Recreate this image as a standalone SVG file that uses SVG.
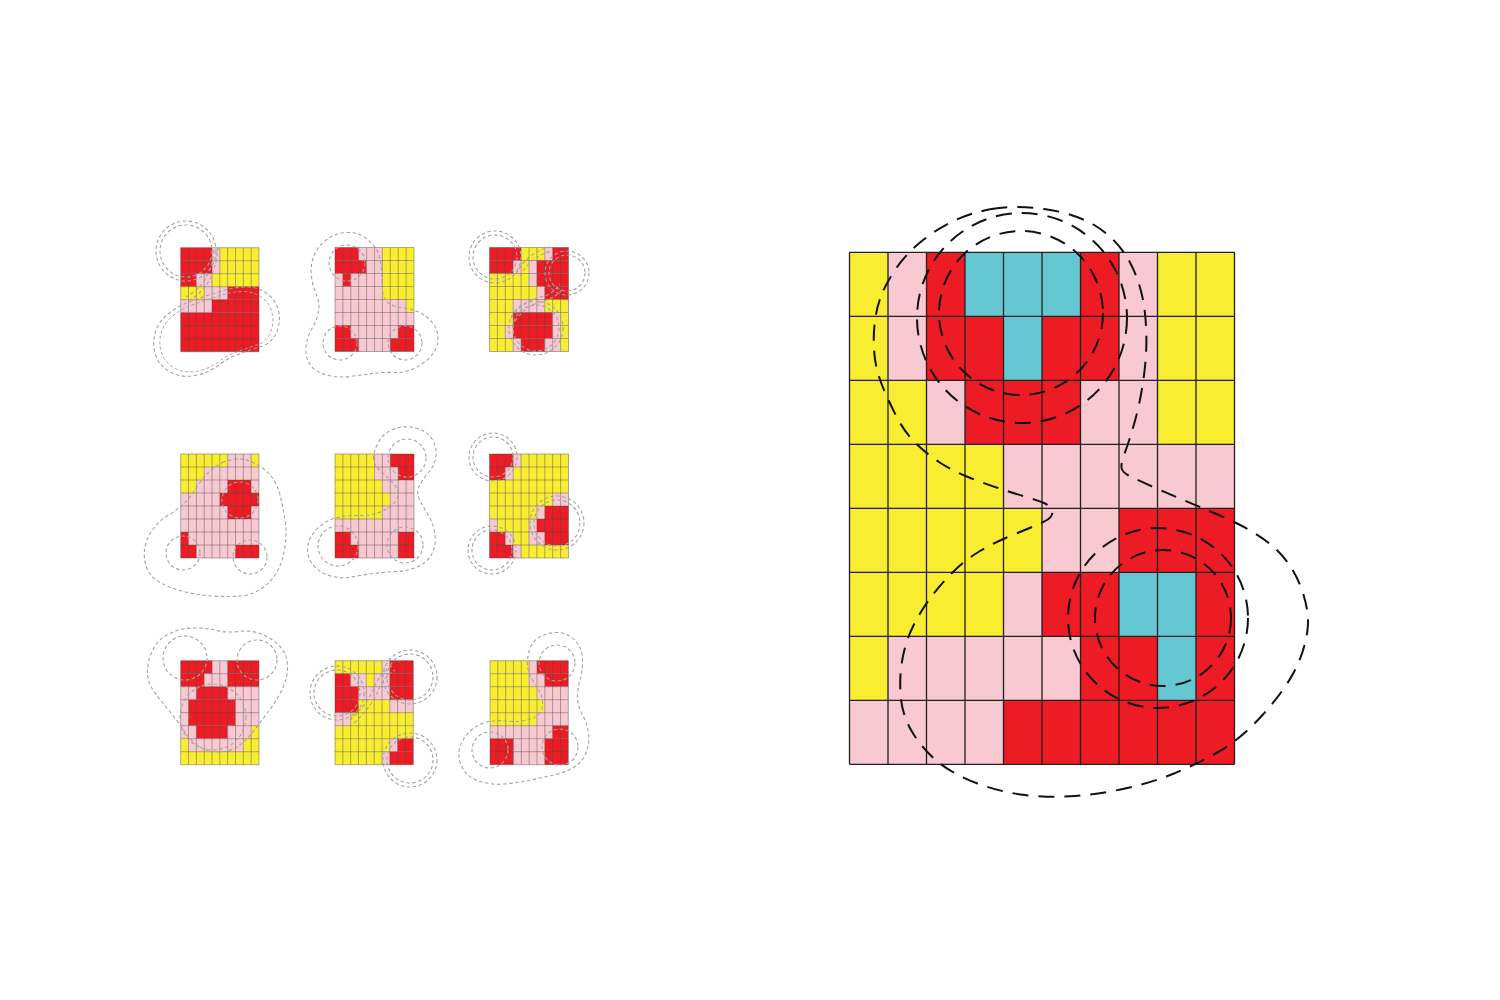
<svg xmlns="http://www.w3.org/2000/svg" xmlns:xlink="http://www.w3.org/1999/xlink" width="1500" height="1000" viewBox="0 0 1500 1000">
<style>
.y{fill:#f9ed32}.p{fill:#f9c9d2}.r{fill:#ed1c24}.c{fill:#65c7d2}
.bgl{fill:none;stroke:#231f20;stroke-width:1.3}
.sgl{fill:none;stroke:#4d4d4d;stroke-opacity:0.75;stroke-width:0.6}
.bd{fill:none;stroke:#111;stroke-width:2;stroke-dasharray:16 10}
.sd{fill:none;stroke:#a3a3a3;stroke-width:1.1;stroke-dasharray:3.5 2.5}
</style>
<defs>
<path id="lines" vector-effect="non-scaling-stroke" d="M0 0V8M1 0V8M2 0V8M3 0V8M4 0V8M5 0V8M6 0V8M7 0V8M8 0V8M9 0V8M10 0V8M0 0H10M0 1H10M0 2H10M0 3H10M0 4H10M0 5H10M0 6H10M0 7H10M0 8H10"/>
</defs>
<rect width="1500" height="1000" fill="#fff"/>

<g id="big-grid" transform="translate(849.5,252.3) scale(38.5,64)">
<rect class="y" x="0" y="0" width="1" height="1"/><rect class="p" x="1" y="0" width="1" height="1"/><rect class="r" x="2" y="0" width="1" height="1"/><rect class="c" x="3" y="0" width="3" height="1"/><rect class="r" x="6" y="0" width="1" height="1"/><rect class="p" x="7" y="0" width="1" height="1"/><rect class="y" x="8" y="0" width="2" height="1"/>
<rect class="y" x="0" y="1" width="1" height="1"/><rect class="p" x="1" y="1" width="1" height="1"/><rect class="r" x="2" y="1" width="2" height="1"/><rect class="c" x="4" y="1" width="1" height="1"/><rect class="r" x="5" y="1" width="2" height="1"/><rect class="p" x="7" y="1" width="1" height="1"/><rect class="y" x="8" y="1" width="2" height="1"/>
<rect class="y" x="0" y="2" width="2" height="1"/><rect class="p" x="2" y="2" width="1" height="1"/><rect class="r" x="3" y="2" width="3" height="1"/><rect class="p" x="6" y="2" width="2" height="1"/><rect class="y" x="8" y="2" width="2" height="1"/>
<rect class="y" x="0" y="3" width="4" height="1"/><rect class="p" x="4" y="3" width="6" height="1"/>
<rect class="y" x="0" y="4" width="5" height="1"/><rect class="p" x="5" y="4" width="2" height="1"/><rect class="r" x="7" y="4" width="3" height="1"/>
<rect class="y" x="0" y="5" width="4" height="1"/><rect class="p" x="4" y="5" width="1" height="1"/><rect class="r" x="5" y="5" width="2" height="1"/><rect class="c" x="7" y="5" width="2" height="1"/><rect class="r" x="9" y="5" width="1" height="1"/>
<rect class="y" x="0" y="6" width="1" height="1"/><rect class="p" x="1" y="6" width="5" height="1"/><rect class="r" x="6" y="6" width="2" height="1"/><rect class="c" x="8" y="6" width="1" height="1"/><rect class="r" x="9" y="6" width="1" height="1"/>
<rect class="p" x="0" y="7" width="4" height="1"/><rect class="r" x="4" y="7" width="6" height="1"/>
<use href="#lines" class="bgl"/>
</g>

<g id="grid-1" transform="translate(180.7,247.7) scale(7.83,13)">
<rect class="r" x="0" y="0" width="4" height="1"/><rect class="p" x="4" y="0" width="1" height="1"/><rect class="y" x="5" y="0" width="5" height="1"/>
<rect class="r" x="0" y="1" width="4" height="1"/><rect class="p" x="4" y="1" width="1" height="1"/><rect class="y" x="5" y="1" width="5" height="1"/>
<rect class="r" x="0" y="2" width="2" height="1"/><rect class="p" x="2" y="2" width="2" height="1"/><rect class="y" x="4" y="2" width="6" height="1"/>
<rect class="y" x="0" y="3" width="3" height="1"/><rect class="p" x="3" y="3" width="3" height="1"/><rect class="r" x="6" y="3" width="4" height="1"/>
<rect class="p" x="0" y="4" width="4" height="1"/><rect class="r" x="4" y="4" width="6" height="1"/>
<rect class="r" x="0" y="5" width="10" height="3"/>
<use href="#lines" class="sgl"/>
</g>
<g id="grid-2" transform="translate(335,247.5) scale(7.9,13)">
<rect class="r" x="0" y="0" width="3" height="1"/><rect class="p" x="3" y="0" width="3" height="1"/><rect class="y" x="6" y="0" width="4" height="1"/>
<rect class="r" x="0" y="1" width="4" height="1"/><rect class="p" x="4" y="1" width="2" height="1"/><rect class="y" x="6" y="1" width="4" height="1"/>
<rect class="p" x="0" y="2" width="1" height="1"/><rect class="r" x="1" y="2" width="1" height="1"/><rect class="p" x="2" y="2" width="4" height="1"/><rect class="y" x="6" y="2" width="4" height="1"/>
<rect class="p" x="0" y="3" width="6" height="1"/><rect class="y" x="6" y="3" width="4" height="1"/>
<rect class="p" x="0" y="4" width="9" height="1"/><rect class="y" x="9" y="4" width="1" height="1"/>
<rect class="p" x="0" y="5" width="10" height="1"/>
<rect class="r" x="0" y="6" width="2" height="1"/><rect class="p" x="2" y="6" width="6" height="1"/><rect class="r" x="8" y="6" width="2" height="1"/>
<rect class="r" x="0" y="7" width="3" height="1"/><rect class="p" x="3" y="7" width="4" height="1"/><rect class="r" x="7" y="7" width="3" height="1"/>
<use href="#lines" class="sgl"/>
</g>
<g id="grid-3" transform="translate(489.5,247.5) scale(7.9,13)">
<rect class="r" x="0" y="0" width="4" height="1"/><rect class="y" x="4" y="0" width="3" height="1"/><rect class="p" x="7" y="0" width="1" height="1"/><rect class="r" x="8" y="0" width="2" height="1"/>
<rect class="r" x="0" y="1" width="3" height="1"/><rect class="p" x="3" y="1" width="1" height="1"/><rect class="y" x="4" y="1" width="1" height="1"/><rect class="p" x="5" y="1" width="1" height="1"/><rect class="r" x="6" y="1" width="4" height="1"/>
<rect class="y" x="0" y="2" width="5" height="1"/><rect class="p" x="5" y="2" width="1" height="1"/><rect class="r" x="6" y="2" width="4" height="1"/>
<rect class="y" x="0" y="3" width="6" height="1"/><rect class="p" x="6" y="3" width="1" height="1"/><rect class="r" x="7" y="3" width="3" height="1"/>
<rect class="y" x="0" y="4" width="3" height="1"/><rect class="p" x="3" y="4" width="4" height="1"/><rect class="y" x="7" y="4" width="3" height="1"/>
<rect class="y" x="0" y="5" width="3" height="1"/><rect class="r" x="3" y="5" width="5" height="1"/><rect class="p" x="8" y="5" width="1" height="1"/><rect class="y" x="9" y="5" width="1" height="1"/>
<rect class="y" x="0" y="6" width="2" height="1"/><rect class="p" x="2" y="6" width="1" height="1"/><rect class="r" x="3" y="6" width="5" height="1"/><rect class="p" x="8" y="6" width="1" height="1"/><rect class="y" x="9" y="6" width="1" height="1"/>
<rect class="y" x="0" y="7" width="3" height="1"/><rect class="p" x="3" y="7" width="1" height="1"/><rect class="r" x="4" y="7" width="3" height="1"/><rect class="p" x="7" y="7" width="2" height="1"/><rect class="y" x="9" y="7" width="1" height="1"/>
<use href="#lines" class="sgl"/>
</g>
<g id="grid-4" transform="translate(180.7,454) scale(7.83,13)">
<rect class="y" x="0" y="0" width="6" height="1"/><rect class="p" x="6" y="0" width="3" height="1"/><rect class="y" x="9" y="0" width="1" height="1"/>
<rect class="y" x="0" y="1" width="3" height="1"/><rect class="p" x="3" y="1" width="7" height="1"/>
<rect class="y" x="0" y="2" width="2" height="1"/><rect class="p" x="2" y="2" width="4" height="1"/><rect class="r" x="6" y="2" width="3" height="1"/><rect class="p" x="9" y="2" width="1" height="1"/>
<rect class="p" x="0" y="3" width="5" height="1"/><rect class="r" x="5" y="3" width="5" height="1"/>
<rect class="p" x="0" y="4" width="6" height="1"/><rect class="r" x="6" y="4" width="3" height="1"/><rect class="p" x="9" y="4" width="1" height="1"/>
<rect class="p" x="0" y="5" width="10" height="1"/>
<rect class="r" x="0" y="6" width="1" height="1"/><rect class="p" x="1" y="6" width="9" height="1"/>
<rect class="r" x="0" y="7" width="2" height="1"/><rect class="p" x="2" y="7" width="5" height="1"/><rect class="r" x="7" y="7" width="3" height="1"/>
<use href="#lines" class="sgl"/>
</g>
<g id="grid-5" transform="translate(335,454) scale(7.9,13)">
<rect class="y" x="0" y="0" width="5" height="1"/><rect class="p" x="5" y="0" width="2" height="1"/><rect class="r" x="7" y="0" width="3" height="1"/>
<rect class="y" x="0" y="1" width="5" height="1"/><rect class="p" x="5" y="1" width="3" height="1"/><rect class="r" x="8" y="1" width="2" height="1"/>
<rect class="y" x="0" y="2" width="6" height="1"/><rect class="p" x="6" y="2" width="4" height="1"/>
<rect class="y" x="0" y="3" width="7" height="1"/><rect class="p" x="7" y="3" width="3" height="1"/>
<rect class="y" x="0" y="4" width="6" height="1"/><rect class="p" x="6" y="4" width="4" height="1"/>
<rect class="p" x="0" y="5" width="10" height="1"/>
<rect class="r" x="0" y="6" width="2" height="1"/><rect class="p" x="2" y="6" width="6" height="1"/><rect class="r" x="8" y="6" width="2" height="1"/>
<rect class="r" x="0" y="7" width="3" height="1"/><rect class="p" x="3" y="7" width="5" height="1"/><rect class="r" x="8" y="7" width="2" height="1"/>
<use href="#lines" class="sgl"/>
</g>
<g id="grid-6" transform="translate(489.5,454) scale(7.9,13)">
<rect class="r" x="0" y="0" width="3" height="1"/><rect class="p" x="3" y="0" width="1" height="1"/><rect class="y" x="4" y="0" width="6" height="1"/>
<rect class="r" x="0" y="1" width="2" height="1"/><rect class="p" x="2" y="1" width="1" height="1"/><rect class="y" x="3" y="1" width="7" height="1"/>
<rect class="y" x="0" y="2" width="10" height="1"/>
<rect class="y" x="0" y="3" width="8" height="1"/><rect class="p" x="8" y="3" width="2" height="1"/>
<rect class="y" x="0" y="4" width="6" height="1"/><rect class="p" x="6" y="4" width="1" height="1"/><rect class="r" x="7" y="4" width="3" height="1"/>
<rect class="p" x="0" y="5" width="1" height="1"/><rect class="y" x="1" y="5" width="4" height="1"/><rect class="p" x="5" y="5" width="1" height="1"/><rect class="r" x="6" y="5" width="4" height="1"/>
<rect class="r" x="0" y="6" width="2" height="1"/><rect class="p" x="2" y="6" width="1" height="1"/><rect class="y" x="3" y="6" width="2" height="1"/><rect class="p" x="5" y="6" width="2" height="1"/><rect class="r" x="7" y="6" width="3" height="1"/>
<rect class="r" x="0" y="7" width="3" height="1"/><rect class="p" x="3" y="7" width="1" height="1"/><rect class="y" x="4" y="7" width="6" height="1"/>
<use href="#lines" class="sgl"/>
</g>
<g id="grid-7" transform="translate(180.7,660.7) scale(7.83,13)">
<rect class="r" x="0" y="0" width="4" height="1"/><rect class="p" x="4" y="0" width="2" height="1"/><rect class="r" x="6" y="0" width="4" height="1"/>
<rect class="r" x="0" y="1" width="3" height="1"/><rect class="p" x="3" y="1" width="3" height="1"/><rect class="r" x="6" y="1" width="4" height="1"/>
<rect class="p" x="0" y="2" width="2" height="1"/><rect class="r" x="2" y="2" width="4" height="1"/><rect class="p" x="6" y="2" width="4" height="1"/>
<rect class="p" x="0" y="3" width="1" height="2"/><rect class="r" x="1" y="3" width="6" height="2"/><rect class="p" x="7" y="3" width="3" height="2"/>
<rect class="p" x="0" y="5" width="2" height="1"/><rect class="r" x="2" y="5" width="4" height="1"/><rect class="p" x="6" y="5" width="3" height="1"/><rect class="y" x="9" y="5" width="1" height="1"/>
<rect class="y" x="0" y="6" width="1" height="1"/><rect class="p" x="1" y="6" width="7" height="1"/><rect class="y" x="8" y="6" width="2" height="1"/>
<rect class="y" x="0" y="7" width="10" height="1"/>
<use href="#lines" class="sgl"/>
</g>
<g id="grid-8" transform="translate(335,660.7) scale(7.83,13)">
<rect class="y" x="0" y="0" width="6" height="1"/><rect class="p" x="6" y="0" width="1" height="1"/><rect class="r" x="7" y="0" width="3" height="1"/>
<rect class="r" x="0" y="1" width="2" height="1"/><rect class="p" x="2" y="1" width="2" height="1"/><rect class="y" x="4" y="1" width="1" height="1"/><rect class="p" x="5" y="1" width="2" height="1"/><rect class="r" x="7" y="1" width="3" height="1"/>
<rect class="r" x="0" y="2" width="3" height="1"/><rect class="p" x="3" y="2" width="4" height="1"/><rect class="r" x="7" y="2" width="3" height="1"/>
<rect class="r" x="0" y="3" width="3" height="1"/><rect class="y" x="3" y="3" width="4" height="1"/><rect class="p" x="7" y="3" width="3" height="1"/>
<rect class="p" x="0" y="4" width="2" height="1"/><rect class="y" x="2" y="4" width="8" height="1"/>
<rect class="y" x="0" y="5" width="10" height="1"/>
<rect class="y" x="0" y="6" width="7" height="1"/><rect class="p" x="7" y="6" width="1" height="1"/><rect class="r" x="8" y="6" width="2" height="1"/>
<rect class="y" x="0" y="7" width="6" height="1"/><rect class="p" x="6" y="7" width="1" height="1"/><rect class="r" x="7" y="7" width="3" height="1"/>
<use href="#lines" class="sgl"/>
</g>
<g id="grid-9" transform="translate(490,660.7) scale(7.83,13)">
<rect class="y" x="0" y="0" width="5" height="1"/><rect class="p" x="5" y="0" width="1" height="1"/><rect class="r" x="6" y="0" width="4" height="1"/>
<rect class="y" x="0" y="1" width="5" height="1"/><rect class="p" x="5" y="1" width="2" height="1"/><rect class="r" x="7" y="1" width="3" height="1"/>
<rect class="y" x="0" y="2" width="6" height="1"/><rect class="p" x="6" y="2" width="4" height="1"/>
<rect class="y" x="0" y="3" width="7" height="1"/><rect class="p" x="7" y="3" width="3" height="1"/>
<rect class="y" x="0" y="4" width="6" height="1"/><rect class="p" x="6" y="4" width="4" height="1"/>
<rect class="p" x="0" y="5" width="8" height="1"/><rect class="r" x="8" y="5" width="2" height="1"/>
<rect class="r" x="0" y="6" width="3" height="2"/><rect class="p" x="3" y="6" width="4" height="2"/><rect class="r" x="7" y="6" width="3" height="2"/>
<use href="#lines" class="sgl"/>
</g>

<g id="connectors">
<g id="big-curves">
<circle class="bd" cx="1021" cy="313" r="82"/>
<circle class="bd" cx="1022" cy="318" r="105"/>
<circle class="bd" cx="1163" cy="618" r="68"/>
<circle class="bd" cx="1158" cy="618" r="90"/>
<path class="bd" d="M991.5,209 Q1013,205 1044,209 Q1075,213 1096.5,226.5 Q1118,240 1130,262.5 Q1142,285 1145,313.5 Q1148,342 1144.5,371 Q1141,400 1134.5,422.5 Q1128,445 1124.5,453.5 Q1121,463 1121.5,467.5 Q1122,472 1128.5,475.5 Q1135,479 1159,489.5 Q1183,500 1216.5,514 Q1250,528 1270,544 Q1290,560 1300,585 Q1310,610 1307.5,630 Q1305,650 1295,670 Q1285,690 1262.5,715 Q1240,740 1216.5,753 Q1193,766 1171.5,774.5 Q1150,783 1125,788.5 Q1100,794 1075,796 Q1050,798 1025,795 Q1000,792 977.5,783.5 Q955,775 940,763.5 Q925,752 914,735 Q903,718 901,699 Q899,680 902,661.5 Q905,643 912.5,627.5 Q920,612 930,598.5 Q940,585 952.5,572.5 Q965,560 980,551 Q995,542 1017.5,533 Q1040,524 1046,520.5 Q1052,517 1052.5,512.5 Q1053,508 1048,505 Q1043,502 1028,497.5 Q1013,493 998,488 Q983,483 968,477 Q953,471 940.5,463 Q928,455 916.5,444 Q905,433 896.5,416.5 Q888,400 882,385 Q876,370 874.5,355 Q873,340 874.5,325 Q876,310 880.5,297.5 Q885,285 895,270 Q905,255 920,242.5 Q935,230 952.5,221.5 Q970,213 991.5,209 Z"/>
</g>
<g id="small-curves">
<circle class="sd" cx="186" cy="251" r="30"/><circle class="sd" cx="186" cy="251" r="26"/>
<path class="sd" d="M218,247 Q216,272 205,287 Q198,295 190,300"/>
<path class="sd" d="M214,250 Q212,270 202,284 Q195,292 186,297"/>
<path id="b1" class="sd" d="M209,295 Q200,298 189,302 Q178,306 168,314 Q158,322 155,333.5 Q152,345 156,356 Q160,367 171,372.5 Q182,378 195,375.5 Q208,373 218,365.5 Q228,358 239,354 Q250,350 261,346.5 Q272,343 276.5,332.5 Q281,322 278.5,311 Q276,300 267,293.5 Q258,287 247,287 Q236,287 227,289.5 Q218,292 209,295 Z"/>
<use href="#b1" transform="translate(215,333) scale(0.9) translate(-215,-333)"/>

<path class="sd" d="M378,252.5 Q375,245 366.5,238.5 Q358,232 346.5,232.5 Q335,233 326,240 Q317,247 313.5,257 Q310,267 311.5,277 Q313,287 316.5,295 Q320,303 318.5,311.5 Q317,320 312,328.5 Q307,337 306,347 Q305,357 310,364.5 Q315,372 326.5,375 Q338,378 350,376.5 Q362,375 372,373.5 Q382,372 393.5,372.5 Q405,373 415,368 Q425,363 431.5,355.5 Q438,348 438,339 Q438,330 433,323.5 Q428,317 420.5,313 Q413,309 404,308 Q395,307 389,303.5 Q383,300 382.5,290 Q382,280 381.5,270 Q381,260 378,252.5 Z"/>
<circle class="sd" cx="347" cy="263" r="18"/><circle class="sd" cx="340" cy="343" r="17"/><circle class="sd" cx="405" cy="343" r="17"/>

<circle class="sd" cx="495" cy="257" r="22"/><circle class="sd" cx="495" cy="257" r="26"/>
<circle class="sd" cx="567" cy="273" r="18"/><circle class="sd" cx="567" cy="273" r="22"/>
<circle class="sd" cx="536" cy="328" r="23"/><circle class="sd" cx="536" cy="328" r="27"/>
<path class="sd" d="M516,274 Q528,252 550,247"/>
<path class="sd" d="M520,276 Q531,256 552,251"/>
<path class="sd" d="M511,318 Q524,300 545,296 Q555,292 560,284"/>
<path class="sd" d="M515,321 Q527,304 547,300 Q558,296 563,288"/>

<path class="sd" d="M222.5,462.5 Q228,460 235.5,459 Q243,458 253,462.5 Q263,467 270,475 Q277,483 280,495 Q283,507 285,520 Q287,533 285,546.5 Q283,560 278,570 Q273,580 263,587.5 Q253,595 240,596 Q227,597 212,596 Q197,595 183.5,591.5 Q170,588 160,582.5 Q150,577 146.5,567 Q143,557 145,547 Q147,537 153.5,528.5 Q160,520 168.5,515 Q177,510 183.5,504 Q190,498 196.5,487.5 Q203,477 210,471 Q217,465 222.5,462.5 Z"/>
<circle class="sd" cx="240" cy="500" r="18"/><circle class="sd" cx="183" cy="553" r="17"/><circle class="sd" cx="250" cy="557" r="17"/>

<path class="sd" d="M373.5,459 Q373,453 378,443 Q383,433 394,429 Q405,425 416,428 Q427,431 432,439 Q437,447 436,456 Q435,465 428.5,472.5 Q422,480 419,486.5 Q416,493 420,500.5 Q424,508 429,516.5 Q434,525 435,535 Q436,545 432,553.5 Q428,562 418,566.5 Q408,571 396.5,571.5 Q385,572 373.5,573.5 Q362,575 351,577 Q340,579 329,575.5 Q318,572 312,563.5 Q306,555 308,545 Q310,535 318.5,527.5 Q327,520 337.5,517.5 Q348,515 360,515.5 Q372,516 383.5,510.5 Q395,505 397.5,497.5 Q400,490 392.5,482.5 Q385,475 379.5,470 Q374,465 373.5,459 Z"/>
<circle class="sd" cx="407" cy="458" r="19"/><circle class="sd" cx="338" cy="546" r="20"/><circle class="sd" cx="405" cy="545" r="18"/>

<circle class="sd" cx="493" cy="457" r="20"/><circle class="sd" cx="493" cy="457" r="24"/>
<circle class="sd" cx="492" cy="550" r="20"/><circle class="sd" cx="492" cy="550" r="24"/>
<circle class="sd" cx="557" cy="523" r="23"/><circle class="sd" cx="557" cy="523" r="27"/>

<path class="sd" d="M147.5,673 Q147,663 152,651.5 Q157,640 168.5,634 Q180,628 193.5,628 Q207,628 217,630.5 Q227,633 238.5,631.5 Q250,630 260,633.5 Q270,637 278.5,645 Q287,653 287.5,665 Q288,677 282.5,688.5 Q277,700 269.5,710 Q262,720 254.5,730 Q247,740 238.5,746 Q230,752 218.5,752 Q207,752 198.5,746 Q190,740 183.5,730 Q177,720 168.5,710 Q160,700 154,691.5 Q148,683 147.5,673 Z"/>
<circle class="sd" cx="185" cy="658" r="22"/><circle class="sd" cx="257" cy="660" r="20"/><circle class="sd" cx="213" cy="717" r="33"/>

<circle class="sd" cx="337" cy="693" r="23"/><circle class="sd" cx="337" cy="693" r="27"/>
<circle class="sd" cx="410" cy="677" r="23"/><circle class="sd" cx="410" cy="677" r="27"/>
<circle class="sd" cx="410" cy="760" r="23"/><circle class="sd" cx="410" cy="760" r="27"/>
<path class="sd" d="M350,720 Q363,708 372,693 Q378,674 392,666"/>
<path class="sd" d="M354,723 Q367,711 376,696 Q382,678 395,670"/>

<path class="sd" d="M527.5,665 Q527,657 530,648.5 Q533,640 541.5,636 Q550,632 558.5,632.5 Q567,633 574.5,640 Q582,647 582.5,658.5 Q583,670 580,680 Q577,690 577.5,698.5 Q578,707 582.5,715 Q587,723 588.5,733 Q590,743 586,753 Q582,763 572.5,768 Q563,773 551.5,775.5 Q540,778 528.5,780.5 Q517,783 503.5,784 Q490,785 478.5,781 Q467,777 462,767 Q457,757 460,747 Q463,737 471.5,730 Q480,723 488.5,721.5 Q497,720 505,721 Q513,722 521.5,721 Q530,720 536,716.5 Q542,713 542.5,705.5 Q543,698 540,692.5 Q537,687 532.5,680 Q528,673 527.5,665 Z"/>
<circle class="sd" cx="557" cy="663" r="18"/><circle class="sd" cx="490" cy="750" r="18"/><circle class="sd" cx="560" cy="747" r="18"/>
</g>
</g>
</svg>
